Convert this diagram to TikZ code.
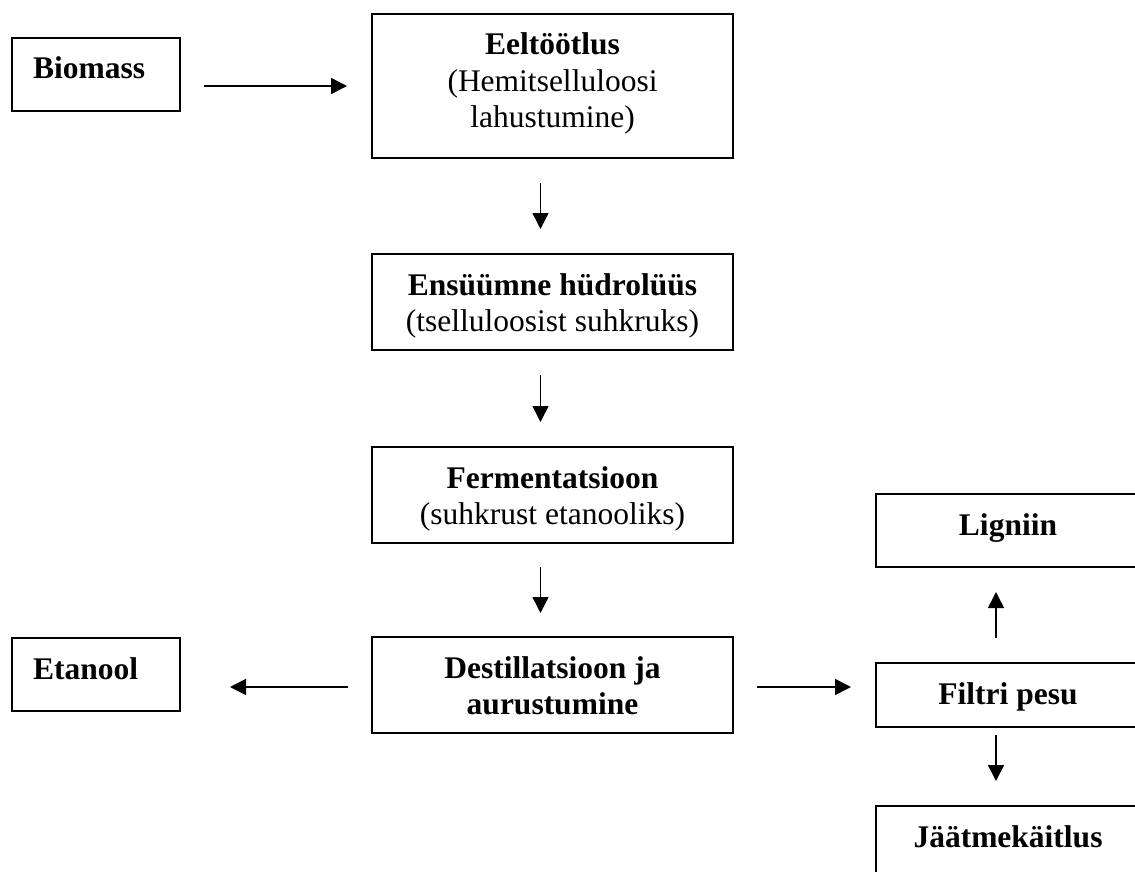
\documentclass[tikz,border=0pt]{standalone}
\usepackage{fontspec}
\setmainfont{Liberation Serif}
\usetikzlibrary{arrows.meta}

% text inside a box, set from the top
\newcommand{\inbox}[4][\centering]{\parbox[c][#3][t]{#2}{#1\rule{0pt}{41pt}#4}}

\begin{document}
\begin{tikzpicture}[x=1pt,y=-1pt,
		stepbox/.style={draw, line width=2pt, inner sep=0pt, anchor=north west,
			font=\fontsize{31.5}{36.5}\selectfont},
		flow/.style={-{Triangle[length=16pt,width=16pt]}, line width=1.6pt}
		]
		\useasboundingbox (0,0) rectangle (1135,872);
		% middle column
		\node[stepbox] (eel) at (371,13) {\inbox{361pt}{144pt}{\textbf{Eeltöötlus}\\(Hemitselluloosi\\lahustumine)}};
		\node[stepbox] (ens) at (371,253) {\inbox{361pt}{96pt}{\textbf{Ensüümne hüdrolüüs}\\(tselluloosist suhkruks)}};
		\node[stepbox] (fer) at (371,446) {\inbox{361pt}{96pt}{\textbf{Fermentatsioon}\\(suhkrust etanooliks)}};
		\node[stepbox] (des) at (371,636) {\inbox{361pt}{96pt}{\textbf{Destillatsioon ja\\aurustumine}}};
		% left column
		\node[stepbox] (bio) at (11,37) {\inbox[\hspace*{21pt}]{168pt}{73pt}{\textbf{Biomass}}};
		\node[stepbox] (eta) at (11,637) {\inbox[\hspace*{21pt}]{168pt}{73pt}{\textbf{Etanool}}};
		% right column
		\node[stepbox] (lig) at (875,493) {\inbox{264pt}{73pt}{\textbf{Ligniin}}};
		\node[stepbox] (fil) at (875,662) {\inbox{264pt}{64pt}{\textbf{Filtri pesu}}};
		\node[stepbox] (jaa) at (875,805) {\inbox{264pt}{73pt}{\textbf{Jäätmekäitlus}}};

		\draw[flow, shorten <=23pt, shorten >=24pt] (bio.east |- eel.west) -- (eel.west);
		\draw[flow, shorten <=24pt, shorten >=24pt] ([xshift=-12pt]eel.south) -- ([xshift=-12pt]ens.north);
		\draw[flow, shorten <=24pt, shorten >=24pt] ([xshift=-12pt]ens.south) -- ([xshift=-12pt]fer.north);
		\draw[flow, shorten <=23pt, shorten >=23pt] ([xshift=-12pt]fer.south) -- ([xshift=-12pt]des.north);
		\draw[flow, shorten <=23pt, shorten >=49pt] ([yshift=-2pt]des.west) -- ([yshift=-2pt]des.west -| eta.east);
		\draw[flow, shorten <=23pt, shorten >=24pt] ([yshift=-2pt]des.east) -- ([yshift=-2pt]des.east -| fil.west);
		\draw[flow, shorten <=24pt, shorten >=24pt] ([xshift=-12pt]fil.north) -- ([xshift=-12pt]lig.south);
		\draw[flow, shorten <=7pt, shorten >=24pt] ([xshift=-12pt]fil.south) -- ([xshift=-12pt]jaa.north);
	\end{tikzpicture}
\end{document}
